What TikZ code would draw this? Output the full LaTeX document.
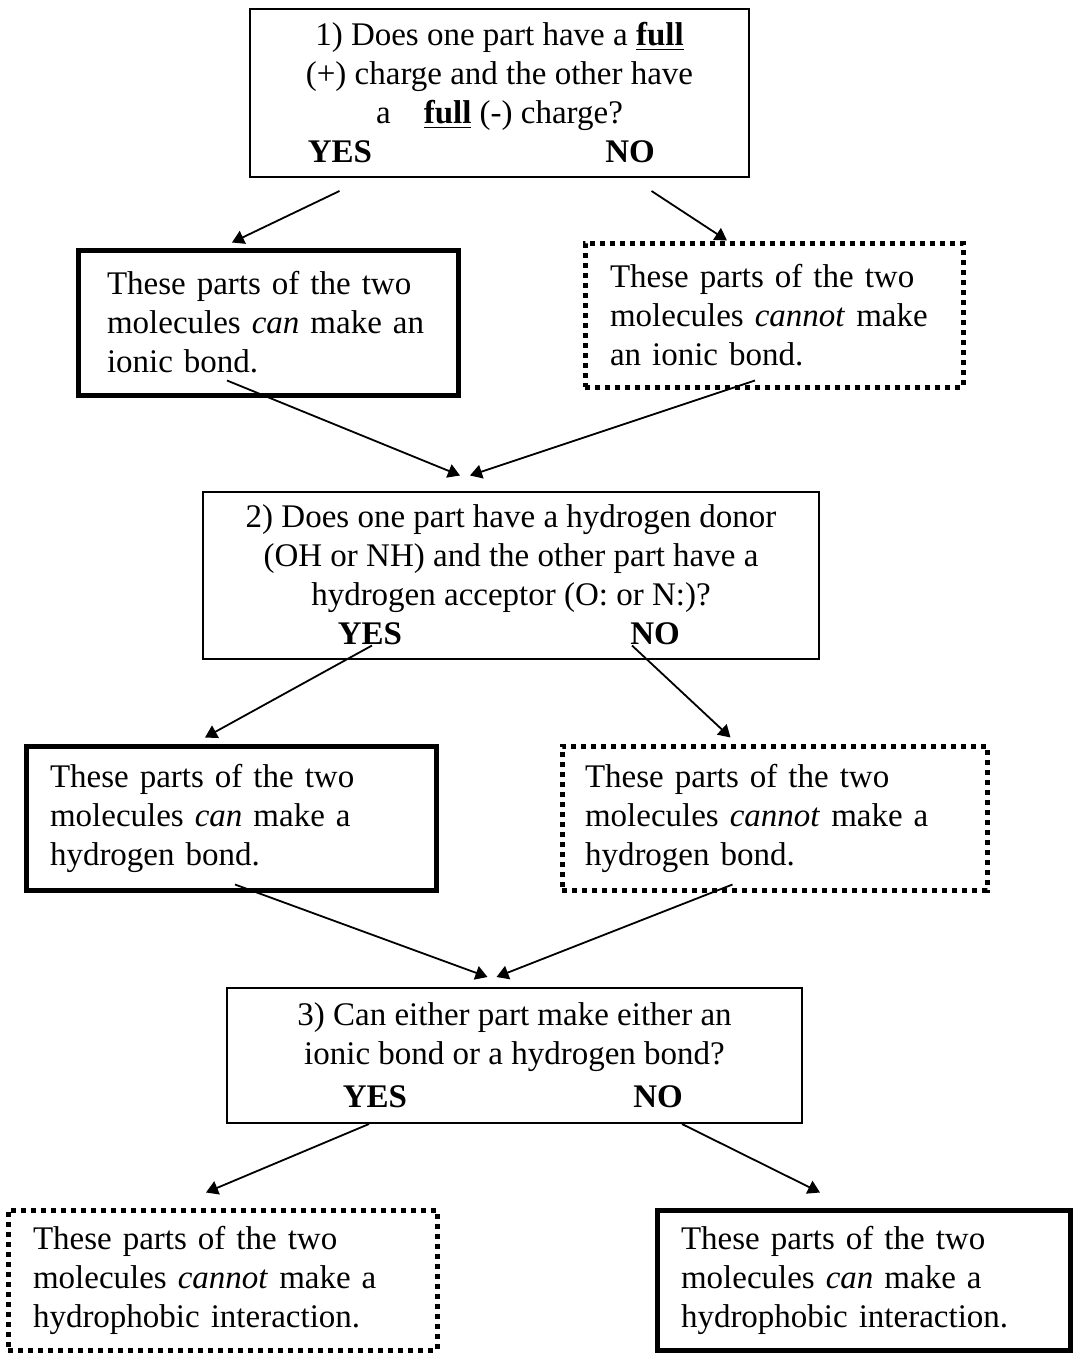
\documentclass[tikz,border=0pt]{standalone}
\usepackage{fontspec}
\setmainfont{Liberation Serif}
\usetikzlibrary{arrows.meta,positioning,calc}
\newcommand{\yesno}[2]{% {row width}{gap after NO}
  \makebox[#1]{\makebox[0pt]{\textbf{YES}}\hfill\makebox[0pt]{\textbf{NO}}\hspace*{#2}}}
\begin{document}
\begin{tikzpicture}[x=0.5pt,y=-0.5pt,
    every node/.style={font=\fontsize{16.5}{19.5}\selectfont,inner ysep=0pt},
    qbox/.style={draw,line width=1pt,align=center},
    canbox/.style={draw,line width=2.5pt,align=left},
    cannotbox/.style={draw,line width=2.5pt,dash pattern=on 2.6pt off 2.4pt,align=left},
    flow/.style={-{Triangle[length=6pt,width=7pt]},line width=0.9pt}]
  \useasboundingbox (0,0) rectangle (1074,1355);

  % question 1 and its answers
  \node[qbox,minimum width=249.5pt,minimum height=84pt] (q1) at (499.5,93) {%
    1) Does one part have a \underline{\textbf{full}}\\
    (+) charge and the other have\\
    a\quad\underline{\textbf{full}} (-) charge?\\
    \yesno{159.5pt}{14.5pt}};
  \node[canbox,minimum height=72.5pt,text width=161pt,inner xsep=14.5pt] (canion) at (268,322.5) {%
    These parts of the two\\ molecules \textit{can} make an\\ ionic bond.};
  \node[cannotbox,minimum height=72pt,text width=164pt,inner xsep=12.5pt] (cannotion) at (774,315) {%
    These parts of the two\\ molecules \textit{cannot} make\\ an ionic bond.};

  % question 2 and its answers
  \node[qbox,minimum width=308pt,minimum height=83.5pt] (q2) at (511,575) {%
    2) Does one part have a hydrogen donor\\
    (OH or NH) and the other part have a\\
    hydrogen acceptor (O: or N:)?\\
    \yesno{141pt}{-1.5pt}};
  \node[canbox,minimum height=72pt,text width=181pt,inner xsep=12pt] (canhyd) at (231,818) {%
    These parts of the two\\ molecules \textit{can} make a\\ hydrogen bond.};
  \node[cannotbox,minimum height=72pt,text width=189.5pt,inner xsep=11.5pt] (cannothyd) at (774.5,818) {%
    These parts of the two\\ molecules \textit{cannot} make a\\ hydrogen bond.};

  % question 3 and its answers
  \node[qbox,minimum width=287.5pt,minimum height=67.5pt] (q3) at (514.5,1055.5) {%
    3) Can either part make either an\\
    ionic bond or a hydrogen bond?\\[2pt]
    \yesno{139.5pt}{-2pt}};
  \node[cannotbox,minimum height=70pt,text width=189.5pt,inner xsep=12.5pt] (cannothph) at (222.5,1280) {%
    These parts of the two\\ molecules \textit{cannot} make a\\ hydrophobic interaction.};
  \node[canbox,minimum height=70pt,text width=182.5pt,inner xsep=12pt] (canhph) at (863.5,1280) {%
    These parts of the two\\ molecules \textit{can} make a\\ hydrophobic interaction.};

  % arrows
  \draw[flow] ($(q1.south)+(-160,13)$) -- ($(canion.north)+(-36,-5)$);
  \draw[flow] ($(q1.south)+(152,13)$) -- ($(cannotion.north)+(-47,0)$);
  \draw[flow] ($(canion.south)+(-41,-17)$) -- ($(q2.north)+(-51,-15)$);
  \draw[flow] ($(cannotion.south)+(-19,-9)$) -- ($(q2.north)+(-41,-15)$);
  \draw[flow] ($(q2.south)+(-139,-14)$) -- ($(canhyd.north)+(-26,-6)$);
  \draw[flow] ($(q2.south)+(121,-14)$) -- ($(cannothyd.north)+(-44,-6)$);
  \draw[flow] ($(canhyd.south)+(4,-8)$) -- ($(q3.north)+(-27,-10)$);
  \draw[flow] ($(cannothyd.south)+(-42,-8)$) -- ($(q3.north)+(-18,-10)$);
  \draw[flow] ($(q3.south)+(-145.5,0)$) -- ($(cannothph.north)+(-16.5,-15)$);
  \draw[flow] ($(q3.south)+(167.5,0)$) -- ($(canhph.north)+(-43.5,-15)$);
\end{tikzpicture}
\end{document}
